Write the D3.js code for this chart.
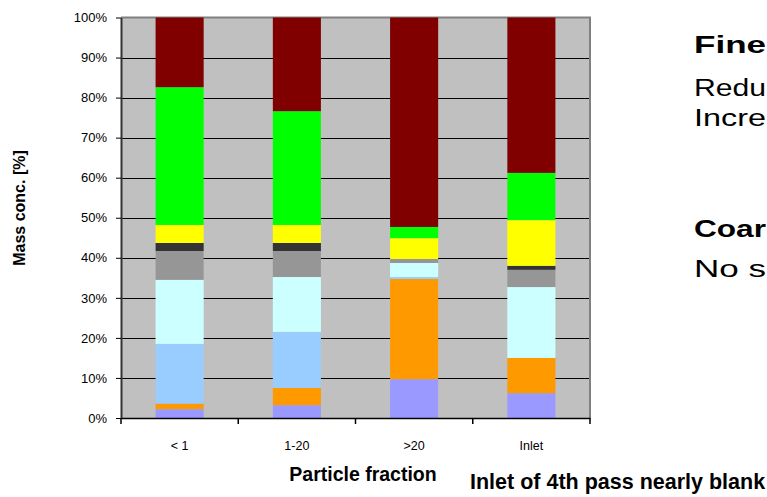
<!DOCTYPE html>
<html>
<head>
<meta charset="utf-8">
<script src="https://cdn.jsdelivr.net/npm/d3@7"></script>
<style>
  body { margin: 0; background: #fff; }
  svg { font-family: Arial, "Liberation Sans", sans-serif; }
</style>
</head>
<body>
<div id="chart"></div>
<script>
var width = 767;
var height = 497;

// particle size fractions
var categories = ["< 1", "1-20", ">20", "Inlet"];
// stacked components, bottom to top (mass conc. in %)
var comp1 = [2.2, 3.2, 9.7, 6.2];
var comp2 = [1.4, 4.3, 25.0, 8.8];
var comp3 = [14.9, 14.0, 0.5, 0];
var comp4 = [16.0, 13.7, 3.5, 17.7];
var comp5 = [7.2, 6.5, 1.0, 4.3];
var comp6 = [2.0, 2.0, 0, 1.0];
var comp7 = [4.5, 4.5, 5.2, 11.4];
var comp8 = [34.4, 28.4, 2.8, 11.8];
var comp9 = [17.4, 23.4, 52.3, 38.8];
var yTicks = [0, 10, 20, 30, 40, 50, 60, 70, 80, 90, 100];
// slide text on the right (only the visible part of each line)
var noteLines = ["Fine", "Redu", "Incre", "Coar", "No s"];
var noteBold = [true, false, false, true, false];

var keys = ["c1", "c2", "c3", "c4", "c5", "c6", "c7", "c8", "c9"];
var colors = ["#9999FF", "#FF9900", "#99CCFF", "#CCFFFF", "#969696", "#333333", "#FFFF00", "#00FF00", "#800000"];
var series = [comp1, comp2, comp3, comp4, comp5, comp6, comp7, comp8, comp9];

var table = categories.map(function(c, i) {
    var row = { cat: c };
    keys.forEach(function(k, j) { row[k] = series[j][i]; });
    return row;
});

var svg = d3.select("#chart").append("svg").attr("width", width).attr("height", height);

var x = d3.scaleBand().domain(categories).range([121, 590]).paddingInner(0.59).paddingOuter(0.295);
var xb = d3.scaleBand().domain(categories).range([121, 590]);
var y = d3.scaleLinear().domain([0, 100]).range([418, 17.5]);

// plot background
svg.append("rect")
    .attr("x", 121).attr("y", y(100))
    .attr("width", 590 - 121).attr("height", y(0) - y(100))
    .attr("fill", "#C0C0C0");

// grid lines
svg.append("g").selectAll("line")
    .data(yTicks.filter(function(d) { return d > 0 && d < 100; }))
    .enter().append("line")
    .attr("x1", 121).attr("x2", 590)
    .attr("y1", function(d) { return Math.round(y(d)) + 0.5; })
    .attr("y2", function(d) { return Math.round(y(d)) + 0.5; })
    .attr("stroke", "#000").attr("stroke-width", 1);

// top and right border
svg.append("path")
    .attr("d", "M121," + (y(100)) + "H590V" + y(0))
    .attr("fill", "none").attr("stroke", "#808080").attr("stroke-width", 2);

var stack = d3.stack().keys(keys);
var layers = stack(table);

svg.append("g").selectAll("g")
    .data(layers)
    .enter().append("g")
    .attr("fill", function(d, i) { return colors[i]; })
    .selectAll("rect")
    .data(function(d) { return d; })
    .enter().append("rect")
    .attr("x", function(d) { return x(d.data.cat); })
    .attr("width", x.bandwidth())
    .attr("y", function(d) { return y(d[1]); })
    .attr("height", function(d) { return y(d[0]) - y(d[1]); });

// y axis
var yAxis = svg.append("g")
    .attr("transform", "translate(121,0)")
    .call(d3.axisLeft(y).tickValues(yTicks).tickFormat(function(d) { return d + "%"; })
        .tickSize(5).tickPadding(9).tickSizeOuter(0));
yAxis.select(".domain").attr("stroke", "#333").attr("stroke-width", 2);
yAxis.selectAll("line").attr("stroke", "#000");
yAxis.selectAll("text").attr("font-size", 13).attr("fill", "#000")
    .attr("font-family", "Arial, 'Liberation Sans', sans-serif");

// x axis labels
var xAxis = svg.append("g")
    .attr("transform", "translate(0,418)")
    .call(d3.axisBottom(xb).tickSize(0).tickPadding(23).tickSizeOuter(0));
xAxis.select(".domain").attr("stroke", "#000").attr("stroke-width", 1.5);
xAxis.selectAll("text").attr("font-size", 12.5).attr("fill", "#000")
    .attr("font-family", "Arial, 'Liberation Sans', sans-serif");

// boundary ticks
svg.append("g").selectAll("line")
    .data(categories.concat(["end"]))
    .enter().append("line")
    .attr("x1", function(d, i) { return 121 + i * xb.step(); })
    .attr("x2", function(d, i) { return 121 + i * xb.step(); })
    .attr("y1", 418).attr("y2", 424)
    .attr("stroke", "#000").attr("stroke-width", 1.5);

// axis titles
svg.append("text")
    .attr("transform", "translate(25,208) rotate(-90)")
    .attr("text-anchor", "middle")
    .attr("font-weight", "bold").attr("font-size", 16)
    .text("Mass conc. [%]");

svg.append("text")
    .attr("x", 363).attr("y", 481)
    .attr("text-anchor", "middle")
    .attr("font-weight", "bold").attr("font-size", 19.5)
    .text("Particle fraction");

svg.append("text")
    .attr("x", 470).attr("y", 489)
    .attr("font-weight", "bold").attr("font-size", 21.5)
    .text("Inlet of 4th pass nearly blank");

// side notes, stretched like the slide text
var noteY = [53, 96, 126, 237, 277];
svg.append("g").selectAll("text")
    .data(noteLines)
    .enter().append("text")
    .attr("x", 694)
    .attr("y", function(d, i) { return noteY[i]; })
    .attr("font-size", 23)
    .attr("font-weight", function(d, i) { return noteBold[i] ? "bold" : "normal"; })
    .attr("textLength", 72)
    .attr("lengthAdjust", "spacingAndGlyphs")
    .text(function(d) { return d; });
</script>
</body>
</html>
